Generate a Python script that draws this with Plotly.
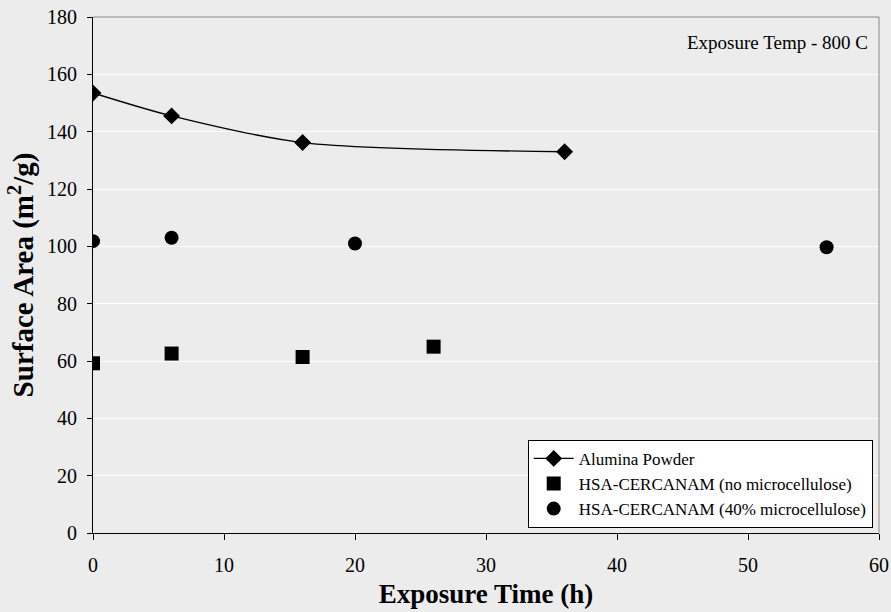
import plotly.graph_objects as go

alumina_x = [0, 6, 16, 36]
alumina_y = [153.5, 145.5, 136.2, 133.0]
nomc_x = [0, 6, 16, 26]
nomc_y = [59.2, 62.6, 61.4, 65.0]
mc40_x = [0, 6, 20, 56]
mc40_y = [101.8, 103.0, 101.0, 99.7]

font = "Liberation Serif"
bg = "#ececec"

fig = go.Figure()
fig.add_trace(go.Scatter(x=alumina_x, y=alumina_y, mode="lines+markers", name="Alumina Powder",
                         line=dict(color="black", width=1.3, shape="spline", smoothing=0.8),
                         marker=dict(symbol="diamond", size=13, color="black")))
fig.add_trace(go.Scatter(x=nomc_x, y=nomc_y, mode="markers", name="HSA-CERCANAM (no microcellulose)",
                         marker=dict(symbol="square", size=14, color="black")))
fig.add_trace(go.Scatter(x=mc40_x, y=mc40_y, mode="markers", name="HSA-CERCANAM (40% microcellulose)",
                         marker=dict(symbol="circle", size=14, color="black")))

fig.update_layout(
    width=891, height=612,
    margin=dict(l=93, r=12, t=17, b=79, autoexpand=False),
    paper_bgcolor=bg, plot_bgcolor=bg,
    font=dict(family=font, color="black", size=20),
    showlegend=True,
    legend=dict(x=0.992, y=0.01, xanchor="right", yanchor="bottom",
                bgcolor="white", bordercolor="black", borderwidth=1,
                font=dict(family=font, size=17), tracegroupgap=0, itemwidth=40),
    xaxis=dict(range=[0, 60], dtick=10, showgrid=False, zeroline=False, automargin=False,
               showline=True, linecolor="black", linewidth=1, mirror=False,
               ticks="outside", ticklen=6, tickcolor="black", ticklabelstandoff=8,
               tickfont=dict(family=font, size=20),
               title=dict(text="<b>Exposure Time (h)</b>", font=dict(family=font, size=27), standoff=9)),
    yaxis=dict(range=[0, 180], dtick=20, showgrid=True, gridcolor="white", gridwidth=1, zeroline=False,
               automargin=False,
               showline=True, linecolor="black", linewidth=1,
               ticks="outside", ticklen=5, tickcolor="black", ticklabelstandoff=6,
               tickfont=dict(family=font, size=20),
               title=dict(text="<b>Surface Area (m<sup>2</sup>/g)</b>", font=dict(family=font, size=29), standoff=4)),
    shapes=[dict(type="line", xref="paper", yref="paper", x0=0, x1=1, y0=1, y1=1,
                 line=dict(color="#888888", width=1)),
            dict(type="line", xref="paper", yref="paper", x0=1, x1=1, y0=0, y1=1,
                 line=dict(color="#888888", width=1))],
    annotations=[dict(text="Exposure Temp - 800 C", xref="paper", yref="paper",
                      x=0.988, y=0.95, xanchor="right", yanchor="middle", showarrow=False,
                      font=dict(family=font, size=19))],
)

fig.write_html("out.html")
